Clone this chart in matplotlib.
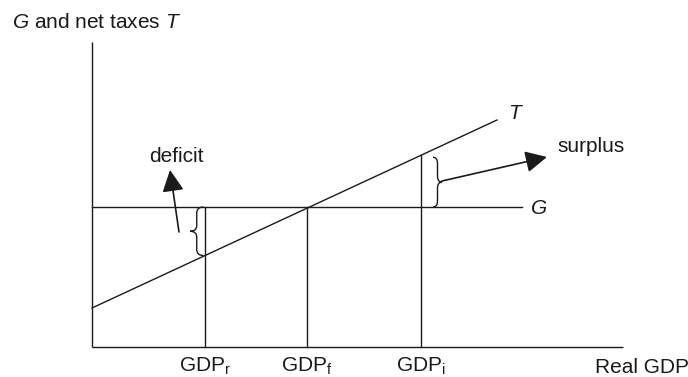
import numpy as np
import matplotlib
matplotlib.use("Agg")
import matplotlib.pyplot as plt
from matplotlib.path import Path
from matplotlib.patches import PathPatch

plt.rcParams['font.family'] = ['Liberation Sans', 'DejaVu Sans']
plt.rcParams['mathtext.fontset'] = 'custom'
plt.rcParams['mathtext.rm'] = 'Liberation Sans'
plt.rcParams['mathtext.it'] = 'Liberation Sans:italic'

# ---- data ----
gdp_labels = ["GDP$_\\mathrm{r}$", "GDP$_\\mathrm{f}$", "GDP$_\\mathrm{i}$"]
gdp_values = [11.3, 21.5, 32.9]
g_level = 14.0
g_line_x = [0.0, 43.0]
t_line_x = [0.0, 40.5]
t_line_y = [3.9, 22.7]
x_axis_end = 53.1
y_axis_end = 30.5

fig = plt.figure(figsize=(6.88, 3.77), dpi=100)
ax = fig.add_axes([0, 0, 1, 1])
ax.set_xlim(-9.2, 59.6)
ax.set_ylim(-3.0, 34.7)
ax.axis('off')

lc = '#1a1a1a'
lw = 1.0

# axes
ax.plot([0, 0], [0, y_axis_end], color=lc, lw=lw, solid_capstyle='butt')
ax.plot([0, x_axis_end], [0, 0], color=lc, lw=lw, solid_capstyle='butt')

# G and T lines
ax.plot(g_line_x, [g_level, g_level], color=lc, lw=lw)
ax.plot(t_line_x, t_line_y, color=lc, lw=lw)

def t_at(x):
    return float(np.interp(x, t_line_x, t_line_y))

# vertical lines
tops = [g_level, g_level, t_at(gdp_values[2])]
for xv, top in zip(gdp_values, tops):
    ax.plot([xv, xv], [0, top], color=lc, lw=lw)

for xv, lab in zip(gdp_values, gdp_labels):
    ax.text(xv, -2.5, lab, ha='center', va='baseline', fontsize=15, color=lc)

ax.text(50.3, -2.6, "Real GDP", ha='left', va='baseline', fontsize=15, color=lc)
ax.text(-8.0, 31.9, "$G$ and net taxes $T$", ha='left', va='baseline', fontsize=15, color=lc)
ax.text(41.6, 22.8, "$T$", ha='left', va='baseline', fontsize=15, color=lc)
ax.text(43.8, 13.3, "$G$", ha='left', va='baseline', fontsize=15, color=lc)
ax.text(8.45, 18.5, "deficit", ha='center', va='baseline', fontsize=15, color=lc)
ax.text(46.5, 19.5, "surplus", ha='left', va='baseline', fontsize=15, color=lc)

def brace(xb, xt, y0, y1):
    xm = (xb + xt) / 2.0
    ym = (y0 + y1) / 2.0
    r = min(0.6, (y1 - y0) / 6.0)
    verts = [
        (xb, y1), (xm, y1), (xm, y1 - r),
        (xm, ym + r),
        (xm, ym), (xt, ym),
        (xm, ym), (xm, ym - r),
        (xm, y0 + r),
        (xm, y0), (xb, y0),
    ]
    codes = [Path.MOVETO, Path.CURVE3, Path.CURVE3,
             Path.LINETO,
             Path.CURVE3, Path.CURVE3,
             Path.CURVE3, Path.CURVE3,
             Path.LINETO,
             Path.CURVE3, Path.CURVE3]
    ax.add_patch(PathPatch(Path(verts, codes), fill=False, edgecolor=lc, lw=lw))

# deficit brace (left of GDP_r)
brace(gdp_values[0] - 0.15, gdp_values[0] - 1.5, t_at(gdp_values[0]), g_level)
# surplus brace (right of GDP_i)
brace(gdp_values[2] + 1.2, gdp_values[2] + 2.1, g_level, t_at(gdp_values[2]) - 0.2)

arrow_style = '-|>,head_length=0.6,head_width=0.3'
ax.annotate("", xy=(7.8, 17.7), xytext=(8.7, 11.5),
            arrowprops=dict(arrowstyle=arrow_style, mutation_scale=22,
                            color=lc, lw=1.2, shrinkA=0, shrinkB=0))
ax.annotate("", xy=(45.5, 19.0), xytext=(35.0, 16.6),
            arrowprops=dict(arrowstyle=arrow_style, mutation_scale=22,
                            color=lc, lw=1.2, shrinkA=0, shrinkB=0))

fig.savefig("out.png", dpi=100)
